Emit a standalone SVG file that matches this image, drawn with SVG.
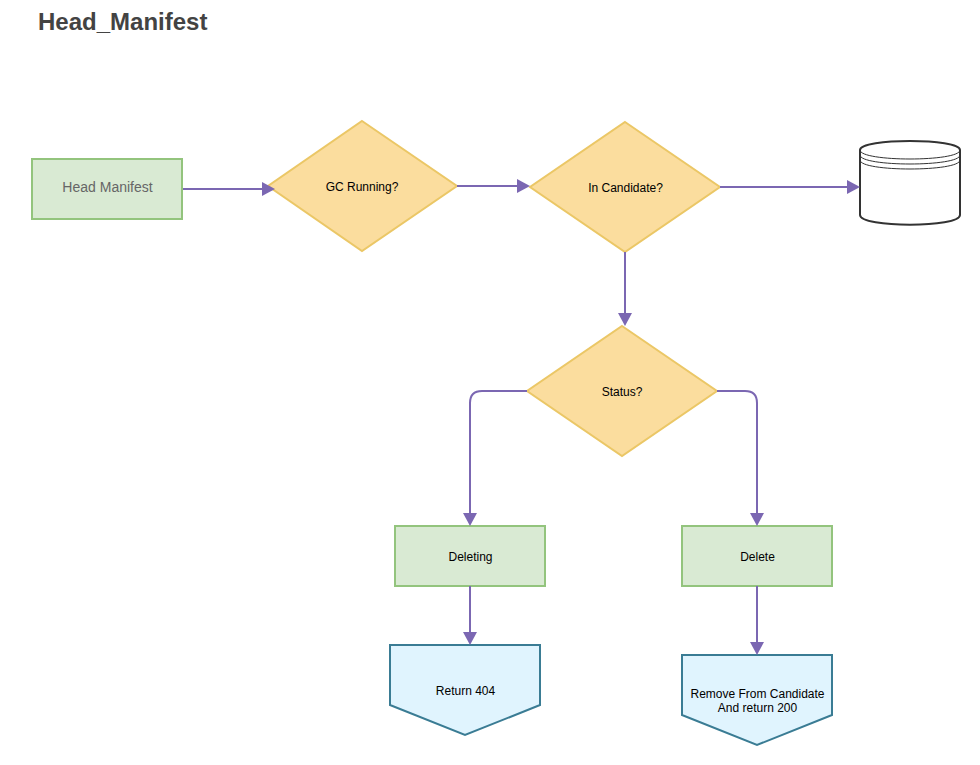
<svg xmlns="http://www.w3.org/2000/svg" width="980" height="765" viewBox="0 0 980 765">
<style>
text{font-family:"Liberation Sans",Arial,sans-serif;font-size:12px;fill:#000;text-anchor:middle}
.g{fill:#d9ead3;stroke:#93c47d;stroke-width:2}
.d{fill:#fbdd9e;stroke:#ebc766;stroke-width:2;stroke-linejoin:miter}
.o{fill:#e0f4fe;stroke:#3a7c94;stroke-width:2}
.c{fill:none;stroke:#7b67b2;stroke-width:2}
.a{fill:#7b67b2;stroke:none}
.t{fill:#fff;stroke:#333;stroke-width:2}
.l{fill:none;stroke:#333;stroke-width:1}
</style>
<rect width="980" height="765" fill="#fff"/>
<text id="title" x="38" y="30" style="font-size:24px;font-weight:700;fill:#434343;text-anchor:start">Head_Manifest</text>
<g id="head-manifest"><rect class="g" x="32" y="159" width="150" height="60"/><text x="107.500" y="192" style="font-size:14px;fill:#666">Head Manifest</text></g>
<g id="gc-running"><path class="d" d="M362 121L457 186L362 251L268 186Z"/><text x="362" y="191">GC Running?</text></g>
<g id="in-candidate"><path class="d" d="M625 122L720 187L625 252L530 187Z"/><text x="625.500" y="192">In Candidate?</text></g>
<g id="database">
<path class="t" d="M860 150C860 138 960 138 960 150V215C960 228 860 228 860 215Z"/>
<path class="l" d="M860 150C860 162 960 162 960 150M860 155C860 167 960 167 960 155M860 160C860 172 960 172 960 160"/>
</g>
<g id="status"><path class="d" d="M622 326L717 391L622 456L527 391Z"/><text x="622" y="396">Status?</text></g>
<g id="deleting"><rect class="g" x="395" y="526" width="150" height="60"/><text x="470.500" y="561">Deleting</text></g>
<g id="delete"><rect class="g" x="682" y="526" width="150" height="60"/><text x="757.500" y="561">Delete</text></g>
<g id="return-404"><path class="o" d="M390 645H540V705L465 735L390 705Z"/><text x="465.500" y="695">Return 404</text></g>
<g id="remove"><path class="o" d="M682 655H832V715L757 745L682 715Z"/><text x="757.500" y="698">Remove From Candidate</text><text x="757.500" y="712">And return 200</text></g>
<g id="connectors">
<path class="c" d="M183 189H264"/><path class="a" d="M262 182L275 189L262 196Z"/>
<path class="c" d="M457 186H519"/><path class="a" d="M517 179L530 186L517 193Z"/>
<path class="c" d="M720 187H848"/><path class="a" d="M847 180L860 187L847 194Z"/>
<path class="c" d="M625 252V315"/><path class="a" d="M618 313L625 326L632 313Z"/>
<path class="c" d="M527 391H482Q470 391 470 403V515"/><path class="a" d="M463 513L470 526L477 513Z"/>
<path class="c" d="M717 391H745Q757 391 757 403V515"/><path class="a" d="M750 513L757 526L764 513Z"/>
<path class="c" d="M470 586V634"/><path class="a" d="M463 632L470 645L477 632Z"/>
<path class="c" d="M757 586V644"/><path class="a" d="M750 642L757 655L764 642Z"/>
</g>
</svg>
